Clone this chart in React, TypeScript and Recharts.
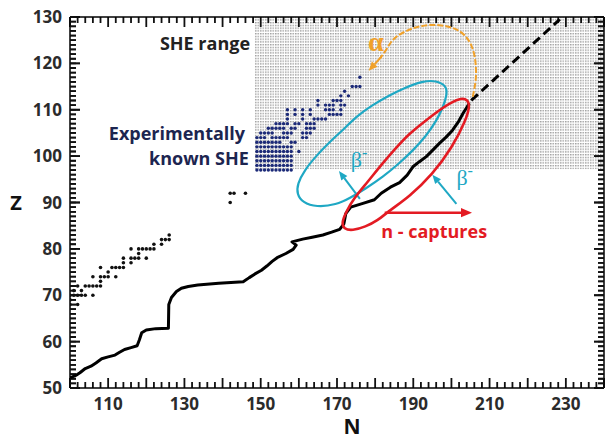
import React from 'react';
import {
  ScatterChart,
  Scatter,
  XAxis,
  YAxis,
  ReferenceArea,
  ReferenceLine,
  ReferenceDot,
} from 'recharts';

const FONT = "'Open Sans', 'Noto Sans', sans-serif";
const SERIF = "'Liberation Serif', 'DejaVu Serif', serif";

// axis ticks
const xLabelTicks = [110, 130, 150, 170, 190, 210, 230];
const yLabelTicks = [50, 60, 70, 80, 90, 100, 110, 120, 130];
const xMajorTicks = [100, 110, 120, 130, 140, 150, 160, 170, 180, 190, 200, 210, 220, 230, 240];
const yMajorTicks = [50, 60, 70, 80, 90, 100, 110, 120, 130];
const range = (a: number, b: number, s: number) => {
  const out: number[] = [];
  for (let v = a; v <= b; v += s) out.push(v);
  return out;
};
const xTicks = range(100, 240, 2);
const yTicks = range(50, 130, 1);

// r-process path, [N, Z]
const rPath: [number, number][] = [
  [100, 52.2], [101.5, 52.7], [102.6, 53.3], [104, 54.2], [105.5, 54.7], [106.8, 55.4],
  [108.3, 56.3], [110, 56.7], [111.8, 57.1], [113, 57.7], [114.3, 58.3], [116, 58.7],
  [117.6, 59.1], [118.2, 60.4], [118.8, 61.9], [120, 62.5], [122.5, 62.8], [125.8, 62.9],
  [125.9, 68], [126.6, 69.5], [127.9, 70.8], [129.2, 71.5], [131, 71.9], [133.5, 72.2],
  [139, 72.6], [145.4, 72.9], [147, 73.8], [148.5, 74.6], [150.2, 75.4], [151.6, 76.3],
  [153, 77.3], [154.3, 78.1], [156.6, 79], [158.5, 79.9], [159.3, 80.8], [158.2, 81.5],
  [161, 82.1], [163.5, 82.5], [166.3, 83], [168.6, 83.6], [170.7, 84.2], [171.8, 85.4],
  [172.3, 87.6], [173.6, 89], [176.8, 89.8], [179.8, 90.6], [181.6, 92], [184, 93.3],
  [186.4, 94.3], [188.4, 95.9], [189.9, 97.7], [191.6, 98.8], [193.4, 99.9], [195.1, 101.3],
  [196.9, 102.8], [198.6, 104.1], [200.3, 105.6], [201.9, 107.5], [203.1, 109.3], [204.7, 111.4],
];
const rPathExtrapolated: [number, number][] = [[205.2, 112], [228.4, 129.5]];

// known nuclei (lower left), [N, Z]
const knownNuclei: [number, number][] = [
  [100, 68], [102, 68], [100, 69], [100, 70], [101, 70], [102, 70], [103, 70], [104, 70], [106, 70],
  [101, 71], [103, 71], [102, 72], [104, 72], [105, 72], [106, 72], [107, 72], [108, 72], [108, 73],
  [106, 74], [108, 74], [109, 74], [110, 74], [112, 74], [110, 75], [108, 76], [111, 76], [112, 76],
  [113, 76], [114, 76], [114, 77], [116, 77], [114, 78], [116, 78], [117, 78], [118, 78], [120, 78],
  [118, 79], [116, 80], [118, 80], [119, 80], [120, 80], [121, 80], [122, 80], [122, 81], [124, 81],
  [124, 82], [125, 82], [126, 82], [126, 83],
  [142, 92], [143, 92], [146, 92], [142, 90],
];

// experimentally known superheavy elements, Z -> list of N
const sheZ = [117, 115, 114, 113, 112, 111, 110, 109, 108, 107, 106, 105, 104, 103, 102, 101, 100, 99, 98, 97];
const sheN = [
  [176],
  [174, 175, 176],
  [172],
  [171, 173],
  [165, 169, 170, 171],
  [165, 167, 168, 169, 171, 172],
  [157, 159, 161, 163, 167, 168, 169, 171],
  [157, 159, 161, 163, 168, 169, 170, 171],
  [157, 161, 164, 165, 166, 167],
  [154, 155, 156, 157, 159, 160, 162, 163, 164],
  [152, 153, 154, 155, 156, 158, 159, 162, 163, 164],
  [150, 151, 152, 153, 156, 157, 158, 161, 162, 163],
  [149, 150, 151, 153, 154, 155, 156, 157, 161, 162],
  [149, 150, 151, 152, 153, 154, 155, 158, 159],
  [149, 150, 151, 152, 153, 154, 155, 156, 157, 158],
  [149, 150, 151, 152, 153, 154, 155, 156, 157, 158, 160],
  [149, 150, 151, 152, 153, 154, 155, 156, 157, 158],
  [149, 150, 151, 152, 153, 154, 155, 156, 157, 158],
  [149, 150, 151, 152, 153, 154, 155, 156, 157, 158],
  [149, 150, 151, 152, 153, 154, 155, 156, 157, 158],
];

// outlines of the marked regions, [N, Z]
const betaRegion: [number, number][] = [
  [198.6, 115.2], [196, 116.3], [192.5, 116.2], [187.3, 114.6], [183.5, 113], [179, 110.9],
  [175, 108.5], [171.5, 105.6], [168, 103], [164.5, 100], [161.5, 97], [159.6, 94],
  [159.5, 91.8], [161, 90], [164.6, 89], [169.8, 89.5], [173.5, 91], [177.5, 93],
  [182, 95.5], [186.4, 98.5], [190, 101.3], [193.4, 104.4], [196, 107.5], [197.8, 110.5], [198.9, 113.4],
];
const captureRegion: [number, number][] = [
  [204.3, 112.2], [202.5, 112.5], [200, 111.6], [196.9, 110], [193, 107.5], [189, 104.9],
  [185.5, 101.8], [182, 98.5], [177.7, 94.1], [174.5, 91], [172.4, 88], [171.2, 85.6],
  [171.8, 84.3], [174, 83.9], [177.5, 84.8], [180.5, 86], [183.8, 88.3], [189, 91.3],
  [195, 96], [200.3, 102], [203.8, 107.8], [204.8, 110.7],
];
const alphaArc: [number, number][] = [
  [205.6, 112.8], [206.4, 116], [206.5, 118.5], [206.2, 121.5], [205.3, 124], [203.8, 125.9],
  [201.8, 127.2], [199.5, 127.9], [196.8, 128.3], [194.2, 128.3], [191.8, 128], [189.9, 127.6],
  [187.6, 126.8], [185.5, 125.8], [184, 124.5], [182.9, 122.9], [181.3, 121.1],
];

const toPts = (a: [number, number][]) => a.map(([n, z]) => ({ n, z }));
const shePts = sheZ.flatMap((z, i) => sheN[i].map((n) => ({ n, z })));

const NAVY = '#1c2a78';
const CYAN = '#1fa8c4';
const RED = '#e31b23';
const ORANGE = '#f0a12a';
const TICK_TEXT = { fontSize: 17, fontWeight: 700, fill: '#2b2b2b', fontFamily: FONT };

const noDot = () => <g />;
const emptyTick = () => <g />;
const dot = (r: number, fill: string) => (p: any) => <circle cx={p.cx} cy={p.cy} r={r} fill={fill} />;

// one frame edge: ticks placed along the edge segment the library gives, pointing inward
const edgeTicks = (values: number[], lo: number, hi: number, dx: number, dy: number) => (p: any) => {
  const { x1, y1, x2, y2 } = p;
  let d = '';
  values.forEach((v) => {
    const t = (v - lo) / (hi - lo);
    const x = x1 + t * (x2 - x1);
    const y = y1 + t * (y2 - y1);
    const len = v % 10 === 0 ? 10 : 6;
    d += `M${x},${y}L${x + dx * len},${y + dy * len}`;
  });
  return (
    <g>
      <path d={d} stroke="#111" strokeWidth={1.8} fill="none" />
    </g>
  );
};

const tickLabel = (side: 'bottom' | 'left', labels: number[]) => (p: any) => {
  const v = p.payload.value;
  if (!labels.includes(v)) return <g />;
  return side === 'bottom' ? (
    <text x={p.x} y={p.y + 22} textAnchor="middle" {...TICK_TEXT}>{v}</text>
  ) : (
    <text x={p.x - 8} y={p.y + 6} textAnchor="end" {...TICK_TEXT}>{v}</text>
  );
};

const arrow = (color: string, width: number, head: number) => (p: any) => {
  const { x1, y1, x2, y2 } = p;
  const a = Math.atan2(y2 - y1, x2 - x1);
  const hx = x2 - head * Math.cos(a);
  const hy = y2 - head * Math.sin(a);
  const w = head * 0.42;
  const ox = -Math.sin(a) * w;
  const oy = Math.cos(a) * w;
  return (
    <g>
      <line x1={x1} y1={y1} x2={hx} y2={hy} stroke={color} strokeWidth={width} />
      <polygon points={`${x2},${y2} ${hx + ox},${hy + oy} ${hx - ox},${hy - oy}`} fill={color} />
    </g>
  );
};

const sheArea = (p: any) => (
  <g>
    <defs>
      <pattern id="sheDots" patternUnits="userSpaceOnUse" width={2.5} height={2.75}>
        <rect x={0} y={0} width={1.5} height={1.4} fill="#a0a0a0" />
      </pattern>
    </defs>
    <rect x={p.x} y={p.y} width={p.width} height={p.height} fill="url(#sheDots)" />
  </g>
);

const label = (text: React.ReactNode, opts: any) => (p: any) => (
  <text
    x={p.cx}
    y={p.cy}
    textAnchor={opts.anchor || 'start'}
    fill={opts.fill}
    fontSize={opts.size}
    fontWeight={opts.weight || 700}
    fontFamily={opts.family || FONT}
  >
    {text}
  </text>
);

const axisStroke = { stroke: '#000', strokeWidth: 1.5 };
const tickStroke = { stroke: '#111', strokeWidth: 1.6 };
const betaText = <>β<tspan dy={-9} fontSize={16}>-</tspan></>;

export default function App() {
  return (
    <div style={{ position: 'relative', width: 609, height: 440, fontFamily: FONT }}>
      <style>{'body{margin:0}'}</style>
      <ScatterChart width={609} height={440} margin={{ top: 0, right: 0, bottom: 22, left: 10 }}>
        <XAxis
          type="number"
          dataKey="n"
          domain={[100, 240]}
          allowDataOverflow
          ticks={xTicks}
          interval={0}
          height={30}
          tickLine={false}
          tickSize={0}
          tickMargin={0}
          axisLine={axisStroke}
          tick={tickLabel('bottom', xLabelTicks)}
        />
        <XAxis
          xAxisId="top"
          orientation="top"
          type="number"
          domain={[100, 240]}
          allowDataOverflow
          height={17}
          tickLine={false}
          tick={false}
          axisLine={axisStroke}
        />
        <YAxis
          type="number"
          dataKey="z"
          domain={[50, 130]}
          allowDataOverflow
          ticks={yTicks}
          interval={0}
          width={60}
          tickLine={false}
          tickSize={0}
          tickMargin={0}
          axisLine={axisStroke}
          tick={tickLabel('left', yLabelTicks)}
        />
        <YAxis
          yAxisId="right"
          orientation="right"
          type="number"
          domain={[50, 130]}
          allowDataOverflow
          width={5}
          tickLine={false}
          tick={false}
          axisLine={axisStroke}
        />

        {/* thin mirrored axes that only carry the inward tick marks */}
        <XAxis xAxisId="bMin" type="number" domain={[100, 240]} allowDataOverflow mirror height={0.01} ticks={xTicks} interval={0} tickSize={6} tickLine={tickStroke} tick={emptyTick} axisLine={false} />
        <XAxis xAxisId="bMaj" type="number" domain={[100, 240]} allowDataOverflow mirror height={0.01} ticks={xMajorTicks} interval={0} tickSize={10} tickLine={tickStroke} tick={emptyTick} axisLine={false} />
        <XAxis xAxisId="tMin" orientation="top" type="number" domain={[100, 240]} allowDataOverflow mirror height={0.01} ticks={xTicks} interval={0} tickSize={6} tickLine={tickStroke} tick={emptyTick} axisLine={false} />
        <XAxis xAxisId="tMaj" orientation="top" type="number" domain={[100, 240]} allowDataOverflow mirror height={0.01} ticks={xMajorTicks} interval={0} tickSize={10} tickLine={tickStroke} tick={emptyTick} axisLine={false} />
        <YAxis yAxisId="lMin" type="number" domain={[50, 130]} allowDataOverflow mirror width={0.01} ticks={yTicks} interval={0} tickSize={6} tickLine={tickStroke} tick={emptyTick} axisLine={false} />
        <YAxis yAxisId="lMaj" type="number" domain={[50, 130]} allowDataOverflow mirror width={0.01} ticks={yMajorTicks} interval={0} tickSize={10} tickLine={tickStroke} tick={emptyTick} axisLine={false} />
        <YAxis yAxisId="rMin" orientation="right" type="number" domain={[50, 130]} allowDataOverflow mirror width={0.01} ticks={yTicks} interval={0} tickSize={6} tickLine={tickStroke} tick={emptyTick} axisLine={false} />
        <YAxis yAxisId="rMaj" orientation="right" type="number" domain={[50, 130]} allowDataOverflow mirror width={0.01} ticks={yMajorTicks} interval={0} tickSize={10} tickLine={tickStroke} tick={emptyTick} axisLine={false} />

        <ReferenceArea x1={148.5} x2={240} y1={97.2} y2={130} shape={sheArea} ifOverflow="visible" />

        <Scatter data={toPts(knownNuclei)} shape={dot(1.8, '#111')} isAnimationActive={false} />
        <Scatter data={shePts} shape={dot(1.7, NAVY)} isAnimationActive={false} />

        <Scatter
          data={toPts(rPath)}
          shape={noDot}
          line={{ stroke: '#000', strokeWidth: 3, strokeLinejoin: 'round' }}
          lineJointType="linear"
          isAnimationActive={false}
        />
        <Scatter
          data={toPts(rPathExtrapolated)}
          shape={noDot}
          line={{ stroke: '#000', strokeWidth: 3, strokeDasharray: '9 5' }}
          lineJointType="linear"
          isAnimationActive={false}
        />
        <Scatter
          data={toPts(betaRegion)}
          shape={noDot}
          line={{ stroke: CYAN, strokeWidth: 2.2 }}
          lineJointType="basisClosed"
          isAnimationActive={false}
        />
        <Scatter
          data={toPts(captureRegion)}
          shape={noDot}
          line={{ stroke: RED, strokeWidth: 2.6 }}
          lineJointType="basisClosed"
          isAnimationActive={false}
        />
        <Scatter
          data={toPts(alphaArc)}
          shape={noDot}
          line={{ stroke: ORANGE, strokeWidth: 2, strokeDasharray: '6 2' }}
          lineJointType="basis"
          isAnimationActive={false}
        />

        <ReferenceLine segment={[{ x: 181.6, y: 121.4 }, { x: 178.3, y: 118.4 }]} shape={arrow(ORANGE, 2.2, 9)} />
        <ReferenceLine segment={[{ x: 176, y: 90.8 }, { x: 170.5, y: 96.8 }]} shape={arrow(CYAN, 2, 9)} />
        <ReferenceLine segment={[{ x: 201.3, y: 89.7 }, { x: 195, y: 96 }]} shape={arrow(CYAN, 2, 9)} />
        <ReferenceLine segment={[{ x: 182.5, y: 87.8 }, { x: 205.4, y: 87.8 }]} shape={arrow(RED, 2.6, 11)} />

        {/* inward tick marks on the four frame edges */}
        <ReferenceLine ifOverflow="visible" segment={[{ x: 100, y: 50 }, { x: 240, y: 50 }]} shape={edgeTicks(xTicks, 100, 240, 0, -1)} />
        <ReferenceLine ifOverflow="visible" segment={[{ x: 100, y: 130 }, { x: 240, y: 130 }]} shape={edgeTicks(xTicks, 100, 240, 0, 1)} />
        <ReferenceLine ifOverflow="visible" segment={[{ x: 100, y: 50 }, { x: 100, y: 130 }]} shape={edgeTicks(yTicks, 50, 130, 1, 0)} />
        <ReferenceLine ifOverflow="visible" segment={[{ x: 240, y: 50 }, { x: 240, y: 130 }]} shape={edgeTicks(yTicks, 50, 130, -1, 0)} />

        <ReferenceDot x={147.2} y={122.8} r={0} shape={label('SHE range', { anchor: 'end', fill: '#222', size: 18 })} />
        <ReferenceDot x={145.9} y={103.5} r={0} shape={label('Experimentally', { anchor: 'end', fill: '#1c2550', size: 18 })} />
        <ReferenceDot x={146.9} y={98.1} r={0} shape={label('known SHE', { anchor: 'end', fill: '#1c2550', size: 18 })} />
        <ReferenceDot x={181.6} y={82.4} r={0} shape={label('n - captures', { fill: RED, size: 18 })} />
        <ReferenceDot x={180.2} y={122.6} r={0} shape={label('α', { anchor: 'middle', fill: ORANGE, size: 28, weight: 700, family: SERIF })} />
        <ReferenceDot x={173.6} y={97.6} r={0} shape={label(betaText, { fill: CYAN, size: 22, weight: 400, family: SERIF })} />
        <ReferenceDot x={201.3} y={93.7} r={0} shape={label(betaText, { fill: CYAN, size: 22, weight: 400, family: SERIF })} />
      </ScatterChart>
      <svg width={609} height={440} style={{ position: 'absolute', left: 0, top: 0, pointerEvents: 'none' }}>
        <text x={16} y={210} textAnchor="middle" fontSize={20} fontWeight={700} fill="#111" fontFamily={FONT}>Z</text>
        <text x={352} y={434} textAnchor="middle" fontSize={21} fontWeight={700} fill="#111" fontFamily={FONT}>N</text>
      </svg>
    </div>
  );
}
